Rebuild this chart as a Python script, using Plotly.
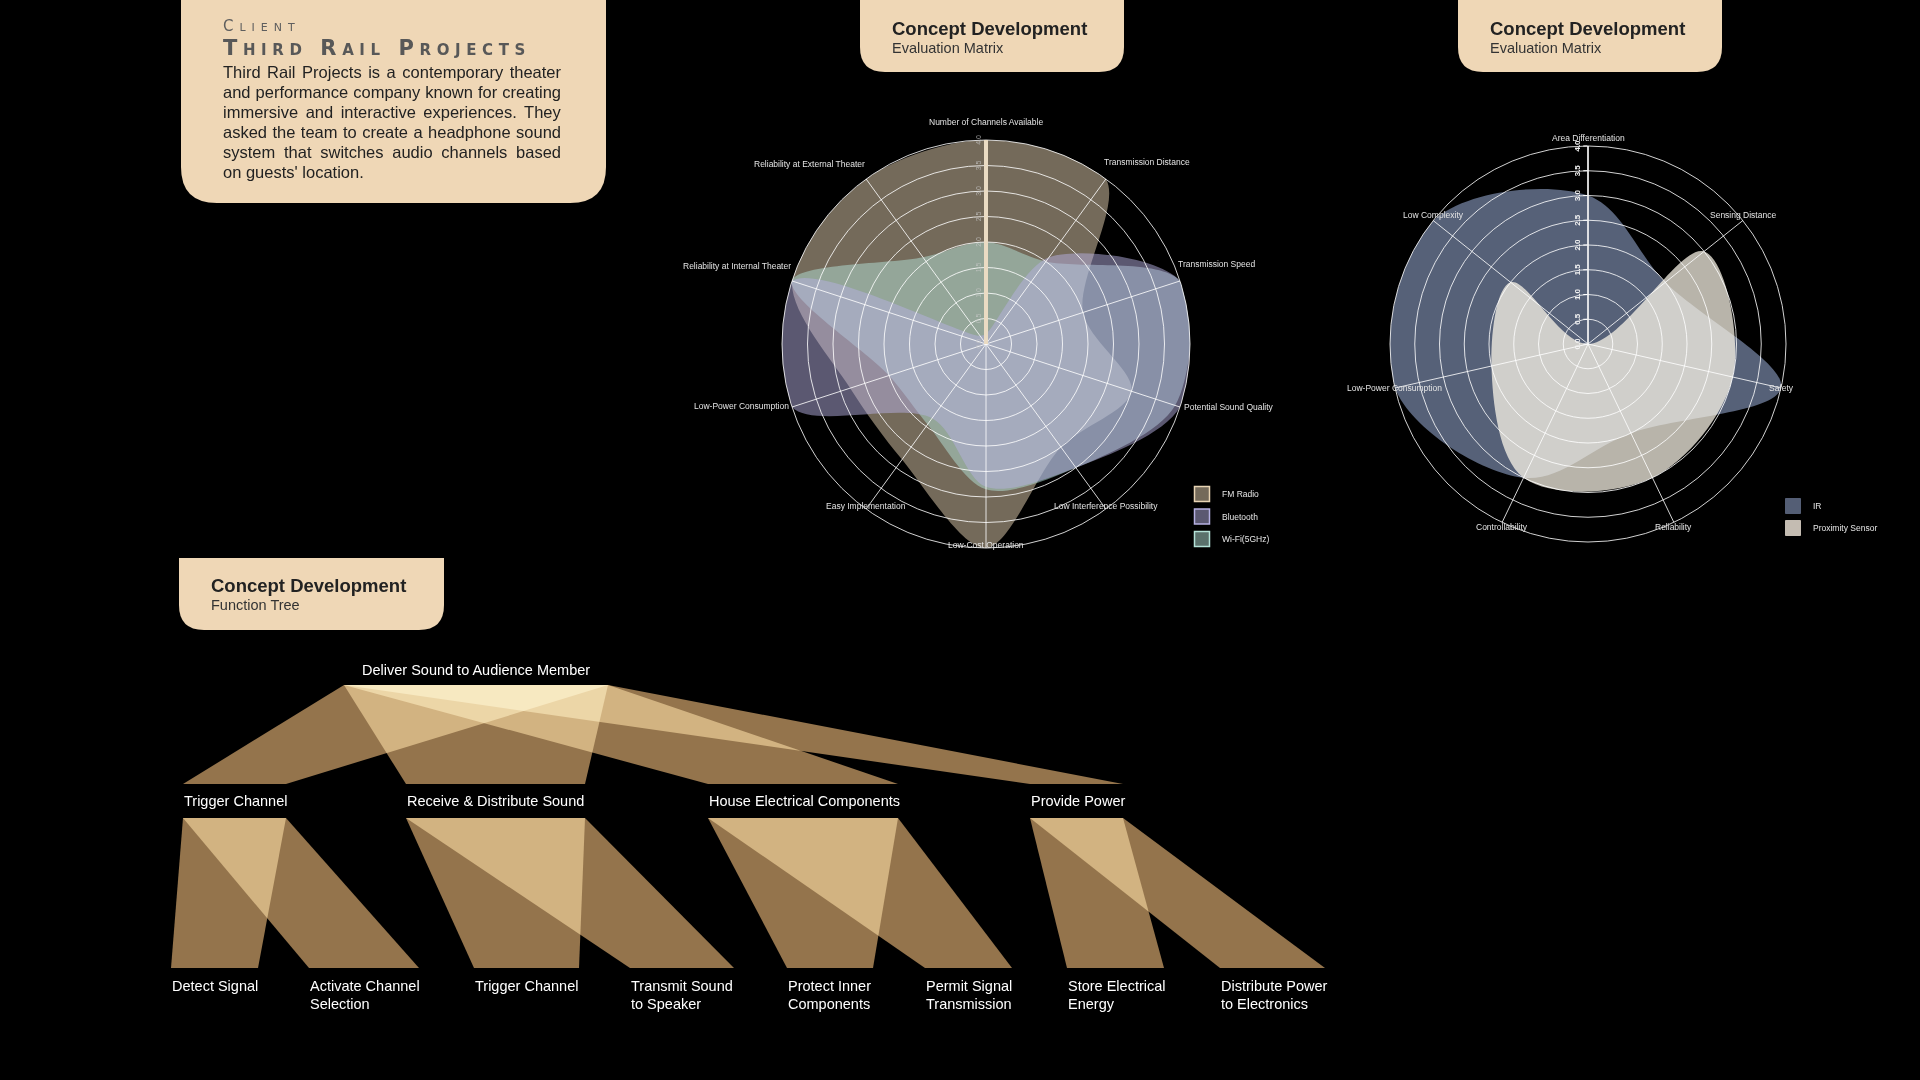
import math
import plotly.graph_objects as go

# ----------------------------- DATA -----------------------------
radar1_categories = [
    "Number of Channels Available", "Transmission Distance", "Transmission Speed",
    "Potential Sound Quality", "Low Interference Possibility", "Low-Cost Operation",
    "Easy Implementation", "Low-Power Consumption", "Reliability at Internal Theater",
    "Reliability at External Theater",
]
fm_radio = [4.0, 4.0, 2.0, 3.0, 2.5, 4.0, 2.8, 2.8, 4.0, 4.0]
bluetooth = [0.2, 2.1, 4.0, 4.0, 3.0, 2.8, 1.8, 4.0, 4.0, 0.2]
wifi_5ghz = [2.0, 2.0, 4.0, 3.9, 3.0, 2.85, 1.95, 2.0, 4.0, 2.1]

radar2_categories = [
    "Area Differentiation", "Sensing Distance", "Safety", "Reliability",
    "Controllability", "Low-Power Consumption", "Low Complexity",
]
ir_sensor = [3.0, 2.0, 4.0, 2.0, 3.0, 4.0, 4.0]
proximity_sensor = [0.0, 3.0, 3.0, 3.0, 3.0, 2.0, 2.0]

radial_ticks = [0.0, 0.5, 1.0, 1.5, 2.0, 2.5, 3.0, 3.5, 4.0]
radial_max = 4.0

tree_root = "Deliver Sound to Audience Member"
tree_level2 = ["Trigger Channel", "Receive & Distribute Sound",
               "House Electrical Components", "Provide Power"]
tree_level3 = [
    ["Detect Signal", "Activate Channel<br>Selection"],
    ["Trigger Channel", "Transmit Sound<br>to Speaker"],
    ["Protect Inner<br>Components", "Permit Signal<br>Transmission"],
    ["Store Electrical<br>Energy", "Distribute Power<br>to Electronics"],
]

client_label = "Client"
client_name = "Third Rail Projects"
client_lines = [
    "Third Rail Projects is a contemporary theater",
    "and performance company known for creating",
    "immersive and interactive experiences. They",
    "asked the team to create a headphone sound",
    "system that switches audio channels based",
    "on guests' location.",
]

# ----------------------------- LAYOUT / STYLE -----------------------------
W, H = 1920, 1080
FONT = "Liberation Sans, Arial, Helvetica, sans-serif"
BOX = "#efd7b6"
GRID = "rgba(255,255,255,0.82)"

R1_CENTER, R1_RADIUS = (986, 344), 204
R2_CENTER, R2_RADIUS = (1588, 344), 198
R1_SMOOTH, R2_SMOOTH = 0.9, 1.0

# function tree geometry (pixels)
ROOT_SPAN = (344, 608)
ROOT_Y = 685
L2_Y = 784
L2_SPANS = [(183, 286), (406, 585), (708, 898), (1030, 1123)]
L3_TOP_Y = 818
L3_BOT_Y = 968
L3_SPANS = [[(171, 258), (309, 419)], [(474, 579), (630, 734)],
            [(787, 873), (925, 1012)], [(1067, 1164), (1220, 1325)]]
TREE_FILL = "rgb(148,116,76)"   # blended with 'screen' so overlaps brighten


def polar_domain(c, r):
    return dict(x=[(c[0] - r) / W, (c[0] + r) / W],
                y=[1 - (c[1] + r) / H, 1 - (c[1] - r) / H])


def closed(v):
    return list(v) + [v[0]]


fig = go.Figure()

# ---------------- Radar 1 (fills) ----------------
r1_series = [  # draw order
    ("FM Radio", fm_radio, (232, 212, 180), 1),
    ("Wi-Fi(5GHz)", wifi_5ghz, (180, 226, 216), 3),
    ("Bluetooth", bluetooth, (182, 176, 226), 2),
]
for name, vals, col, rank in r1_series:
    fig.add_trace(go.Scatterpolar(
        r=closed(vals), theta=closed(radar1_categories), subplot="polar",
        mode="lines", line=dict(shape="spline", smoothing=R1_SMOOTH, width=0,
                                color="rgba(0,0,0,0)"),
        fill="toself", fillcolor="rgba(%d,%d,%d,0.5)" % col, cliponaxis=False,
        name=name, legendgroup=name, showlegend=False, hoverinfo="skip"))
for name, vals, col, rank in sorted(r1_series, key=lambda s: s[3]):
    fig.add_trace(go.Scatterpolar(
        r=[None], theta=[None], subplot="polar", mode="markers", name=name,
        legendgroup=name, legend="legend", legendrank=rank,
        marker=dict(symbol="square", size=15, color="rgba(%d,%d,%d,0.5)" % col,
                    line=dict(color="rgb(%d,%d,%d)" % col, width=1.5))))

# ---------------- Radar 2 (fills) ----------------
r2_series = [
    ("IR", ir_sensor, "rgba(143,162,200,0.6)", "rgb(84,94,117)", 1),
    ("Proximity Sensor", proximity_sensor, "rgba(255,250,236,0.72)", "rgb(196,188,178)", 2),
]
for name, vals, fillc, legc, rank in r2_series:
    fig.add_trace(go.Scatterpolar(
        r=closed(vals), theta=closed(radar2_categories), subplot="polar2",
        mode="lines", line=dict(shape="spline", smoothing=R2_SMOOTH, width=0,
                                color="rgba(0,0,0,0)"),
        fill="toself", fillcolor=fillc, cliponaxis=False,
        name=name, legendgroup=name, showlegend=False, hoverinfo="skip"))
for name, vals, fillc, legc, rank in r2_series:
    fig.add_trace(go.Scatterpolar(
        r=[None], theta=[None], subplot="polar2", mode="markers", name=name,
        legendgroup=name, legend="legend2", legendrank=rank,
        marker=dict(symbol="square", size=15, color=legc, line=dict(color=legc, width=1))))

# grid overlays (drawn above the fills)
for sp in ("polar3", "polar4"):
    fig.add_trace(go.Scatterpolar(r=[None], theta=[None], subplot=sp, mode="markers",
                                  showlegend=False, hoverinfo="skip"))

# ---------------- Function tree ----------------
def add_link(parent, child, y0, y1):
    fig.add_trace(go.Scatter(
        x=[parent[0], parent[1], child[1], child[0], parent[0]],
        y=[y0, y0, y1, y1, y0], mode="lines", line=dict(width=0, color="rgba(0,0,0,0)"),
        fill="toself", fillcolor=TREE_FILL, showlegend=False, hoverinfo="skip"))


for span in L2_SPANS:
    add_link(ROOT_SPAN, span, ROOT_Y, L2_Y)
for pspan, kids in zip(L2_SPANS, L3_SPANS):
    for kspan in kids:
        add_link(pspan, kspan, L3_TOP_Y, L3_BOT_Y)

# ---------------- Shapes (header tabs) ----------------
def tab_path(x0, x1, y0, y1, r):
    return (f"M{x0},{y0} L{x1},{y0} L{x1},{y1 - r} Q{x1},{y1} {x1 - r},{y1} "
            f"L{x0 + r},{y1} Q{x0},{y1} {x0},{y1 - r} Z")


shapes = [
    dict(type="path", path=tab_path(181, 606, -5, 203, 36)),
    dict(type="path", path=tab_path(860, 1124, -5, 72, 25)),
    dict(type="path", path=tab_path(1458, 1722, -5, 72, 25)),
    dict(type="path", path=tab_path(179, 444, 558, 630, 25)),
]
for s in shapes:
    s.update(xref="x", yref="y", fillcolor=BOX, line=dict(width=0), layer="below")

# ---------------- Annotations ----------------
ann = []


def text(x, y, t, size, color="#ffffff", xanchor="left", yanchor="middle", **font):
    ann.append(dict(x=x, y=y, xref="x", yref="y", text=t, showarrow=False,
                    xanchor=xanchor, yanchor=yanchor, align="left",
                    font=dict(family=font.pop("family", FONT), size=size, color=color, **font)))


# header tabs
for x in (890, 1488):
    text(x, 28, "Concept Development", 18.5, "#222222", weight="bold")
    text(x, 48, "Evaluation Matrix", 14.5, "#333333")
text(209, 585, "Concept Development", 18.5, "#222222", weight="bold")
text(209, 605, "Function Tree", 14.5, "#333333")

# client box
text(221, 26, '<span style="letter-spacing:6px">%s</span>' % client_label, 15, "#5e5e5e",
     family="DejaVu Sans, sans-serif", variant="small-caps")
text(221, 48, '<span style="letter-spacing:5.6px">%s</span>' % client_name, 21, "#585858",
     family="DejaVu Sans, sans-serif", variant="small-caps", weight="bold")

ARIAL = {' ': 278, "'": 191, ',': 278, '.': 278, '-': 333, '&': 667,
         'a': 556, 'b': 556, 'c': 500, 'd': 556, 'e': 556, 'f': 278, 'g': 556, 'h': 556,
         'i': 222, 'j': 222, 'k': 500, 'l': 222, 'm': 833, 'n': 556, 'o': 556, 'p': 556,
         'q': 556, 'r': 333, 's': 500, 't': 278, 'u': 556, 'v': 500, 'w': 722, 'x': 500,
         'y': 500, 'z': 500, 'A': 667, 'P': 667, 'R': 722, 'T': 611}
BODY_SIZE, BODY_W = 16.5, 338
for i, line in enumerate(client_lines):
    t = line
    if i < len(client_lines) - 1:
        nat = sum(ARIAL.get(ch, 556) for ch in line) / 1000 * BODY_SIZE
        ws = (BODY_W - nat) / line.count(" ")
        t = '<span style="word-spacing:%.2fpx">%s</span>' % (ws, line)
    text(221, 72 + 20 * i, t, BODY_SIZE, "#222222")

# tree labels
text((ROOT_SPAN[0] + ROOT_SPAN[1]) / 2, 670, tree_root, 14.5, xanchor="center")
for name, span in zip(tree_level2, L2_SPANS):
    text(span[0] - 1, 801, name, 14.5)
for names, spans in zip(tree_level3, L3_SPANS):
    for name, span in zip(names, spans):
        for k, part in enumerate(name.split("<br>")):
            text(span[0] - 1, 986 + 17.5 * k, part, 14.5)


# radar category labels
def radar_labels(cats, center, radius, style):
    n = len(cats)
    for i, cat in enumerate(cats):
        a = math.radians(i * 360.0 / n)
        s, c = math.sin(a), math.cos(a)
        x, y = center[0] + radius * s, center[1] - radius * c
        if style == 1:
            if i == 0:
                xa, dx, dy = "center", 0, -18
            elif c > 0.2:
                xa, dx, dy = ("left", -4, -17) if s > 0 else ("right", 1, -15)
            elif abs(s) > 0.9:
                xa, dx, dy = ("left", 2, 0) if s > 0 else ("right", -1, -1)
            else:
                xa, dx, dy = "center", 0, -3
        else:
            xa, dx, dy = "center", 0, -6.5 * c - 1.5
        text(x + dx, y + dy, cat, 8.5, "#e4e4e4", xanchor=xa)


radar_labels(radar1_categories, R1_CENTER, R1_RADIUS, 1)
radar_labels(radar2_categories, R2_CENTER, R2_RADIUS, 2)


# ---------------- Polar layouts ----------------
def base_polar(center, radius, cats):
    return dict(
        domain=polar_domain(center, radius), bgcolor="rgba(0,0,0,0)",
        angularaxis=dict(direction="clockwise", rotation=90, type="category",
                         categoryorder="array", categoryarray=cats,
                         showgrid=False, showline=False, ticks="", showticklabels=False),
        radialaxis=dict(range=[0, radial_max], showgrid=False, showline=False,
                        showticklabels=False, ticks=""))


def grid_polar(center, radius, n, rline, rwidth, tickfont, ticks):
    return dict(
        domain=polar_domain(center, radius), bgcolor="rgba(0,0,0,0)",
        angularaxis=dict(direction="clockwise", rotation=90, type="linear",
                         tickvals=[i * 360 / n for i in range(n)], showticklabels=False,
                         showgrid=True, gridcolor=GRID, gridwidth=1,
                         showline=True, linecolor=GRID, linewidth=1, ticks=""),
        radialaxis=dict(range=[0, radial_max], angle=90, side="counterclockwise",
                        tickvals=radial_ticks, ticktext=["%.1f" % v for v in radial_ticks],
                        tickangle=0, showgrid=True, gridcolor=GRID, gridwidth=1,
                        showline=True, linecolor=rline, linewidth=rwidth,
                        ticks=ticks, ticklen=4, tickcolor="#ffffff", tickfont=tickfont))


fig.update_layout(
    width=W, height=H, margin=dict(l=0, r=0, t=0, b=0),
    paper_bgcolor="#000000", plot_bgcolor="#000000",
    xaxis=dict(range=[0, W], domain=[0, 1], visible=False, fixedrange=True),
    yaxis=dict(range=[H, 0], domain=[0, 1], visible=False, fixedrange=True),
    polar=base_polar(R1_CENTER, R1_RADIUS, radar1_categories),
    polar2=base_polar(R2_CENTER, R2_RADIUS, radar2_categories),
    polar3=grid_polar(R1_CENTER, R1_RADIUS, len(radar1_categories), "#eadbc3", 4,
                      dict(family=FONT, size=7, color="rgba(200,200,200,0.75)"), ""),
    polar4=grid_polar(R2_CENTER, R2_RADIUS, len(radar2_categories), "#f4f4f4", 1.5,
                      dict(family=FONT, size=8, color="#f4f4f4", weight="bold"), "outside"),
    showlegend=True,
    legend=dict(x=1182 / W, y=1 - 479.5 / H, xanchor="left", yanchor="top",
                bgcolor="rgba(0,0,0,0)", font=dict(family=FONT, size=8.5, color="#e6e6e6"),
                itemsizing="trace", tracegroupgap=3.5, traceorder="grouped"),
    legend2=dict(x=1773 / W, y=1 - 491.5 / H, xanchor="left", yanchor="top",
                 bgcolor="rgba(0,0,0,0)", font=dict(family=FONT, size=8.5, color="#e6e6e6"),
                 itemsizing="trace", tracegroupgap=3, traceorder="grouped"),
    shapes=shapes, annotations=ann,
)

POST = (
    "document.body.style.margin='0';document.body.style.background='#000';"
    "document.querySelectorAll('.cartesianlayer .js-fill').forEach(function(p){"
    "p.style.mixBlendMode='screen';});"
)
fig.write_html("out.html", config={"displayModeBar": False}, post_script=POST)
